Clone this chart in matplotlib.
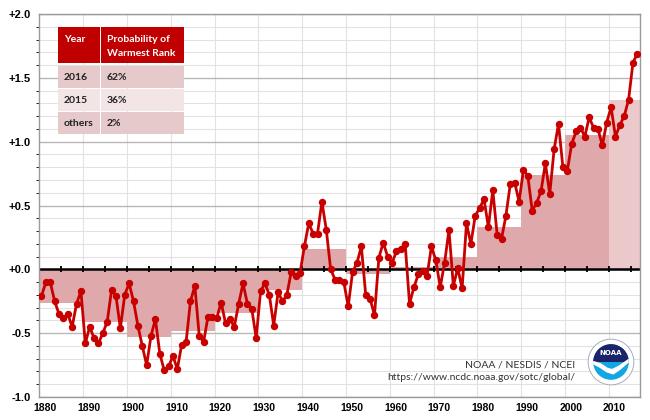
import numpy as np
import matplotlib
matplotlib.use('Agg')
import matplotlib.pyplot as plt
from matplotlib.patches import Rectangle, Circle, Wedge, Polygon

# annual global land & ocean anomalies (deg F)
years = np.arange(1880, 2017)
anomaly = [
    -0.21, -0.10, -0.10, -0.25, -0.35, -0.38, -0.35, -0.45, -0.27, -0.17,
    -0.58, -0.45, -0.54, -0.58, -0.50, -0.41, -0.16, -0.21, -0.46, -0.20,
    -0.11, -0.25, -0.44, -0.60, -0.75, -0.52, -0.39, -0.66, -0.79, -0.76,
    -0.68, -0.78, -0.59, -0.57, -0.25, -0.13, -0.52, -0.57, -0.37, -0.37,
    -0.38, -0.26, -0.42, -0.39, -0.45, -0.27, -0.11, -0.27, -0.31, -0.54,
    -0.17, -0.11, -0.20, -0.44, -0.18, -0.25, -0.20, -0.02, -0.05, -0.03,
    0.18, 0.36, 0.28, 0.28, 0.53, 0.31, 0.00, -0.08, -0.08, -0.10,
    -0.29, -0.02, 0.05, 0.18, -0.20, -0.23, -0.36, 0.09, 0.21, 0.10,
    0.05, 0.14, 0.16, 0.20, -0.27, -0.14, -0.04, -0.01, -0.05, 0.18,
    0.07, -0.14, 0.05, 0.31, -0.13, 0.01, -0.15, 0.36, 0.20, 0.42,
    0.48, 0.55, 0.33, 0.62, 0.27, 0.24, 0.42, 0.67, 0.68, 0.53,
    0.78, 0.73, 0.46, 0.52, 0.61, 0.83, 0.59, 0.94, 1.14, 0.80,
    0.77, 0.98, 1.08, 1.11, 1.04, 1.19, 1.11, 1.10, 0.97, 1.15,
    1.27, 1.04, 1.13, 1.20, 1.33, 1.62, 1.69,
]

# decadal averages (deg F)
decades = [1880, 1890, 1900, 1910, 1920, 1930, 1940, 1950, 1960, 1970, 1980, 1990, 2000, 2010]
decade_avg = [-0.26, -0.41, -0.53, -0.48, -0.34, -0.16, 0.16, -0.04, 0.02, 0.10, 0.33, 0.74, 1.05, 1.33]

table_years = ['2016', '2015', 'others']
table_probs = ['62%', '36%', '2%']

yticks = [-1.0, -0.5, 0.0, 0.5, 1.0, 1.5, 2.0]
ytick_labels = ['-1.0', '-0.5', '+0.0', '+0.5', '+1.0', '+1.5', '+2.0']
xtick_years = list(range(1880, 2011, 10))

W, H = 650, 420
X_MAX = 2017.1


def fx(x):
    return x / W


def fy(y):
    return 1 - y / H


fig = plt.figure(figsize=(6.5, 4.2), dpi=100)
ax = fig.add_axes([fx(39.3), fy(397), fx(640 - 39.3), (397 - 14) / H])

# decade bars
for d, v in zip(decades, decade_avg):
    w = min(10, X_MAX - d)
    col = '#ebc9ca' if d == 2010 else '#dfa9ab'
    ax.bar(d, v, width=w, align='edge', color=col, zorder=1, linewidth=0)

# grid
ax.set_yticks(np.arange(-1.0, 2.01, 0.1), minor=True)
ax.grid(which='minor', axis='y', color='#e2e2e2', lw=0.8, zorder=0)
ax.set_yticks(yticks)
ax.set_yticklabels(ytick_labels, fontsize=8, fontweight='bold', family='Liberation Sans')
ax.grid(which='major', axis='y', color='#b8b8b8', lw=1.0, zorder=0)
for d in xtick_years[1:]:
    ax.axvline(d, color='#e2e2e2', lw=0.8, zorder=0)
ax.set_axisbelow(True)

# zero line with 5-year ticks
ax.axhline(0, color='black', lw=1.8, zorder=2)
ax.plot(np.arange(1880, 2016, 5), np.zeros(len(range(1880, 2016, 5))), '|',
        color='black', ms=5, mew=1.3, zorder=2)

# annual series
ax.plot(years + 0.5, anomaly, '-o', color='#c80000', lw=2.0, ms=4.3, zorder=3)

ax.set_xlim(1880, X_MAX)
ax.set_ylim(-1.0, 2.0)
ax.set_xticks([y + 1.3 for y in xtick_years])
ax.set_xticklabels([str(y) for y in xtick_years], fontsize=7.5, fontweight='bold',
                   family='Liberation Sans')
ax.tick_params(axis='both', length=0, pad=4)
ax.tick_params(axis='y', pad=6)
for s in ax.spines.values():
    s.set_color('#9a9a9a')
    s.set_linewidth(1.0)

# probability table
hdr = Rectangle((fx(57.5), fy(63)), (184 - 57.5) / W, 36 / H, transform=fig.transFigure,
                facecolor='#c00000', edgecolor='none', zorder=5)
fig.patches.append(hdr)
fig.patches.append(Rectangle((fx(99.5), fy(63)), 1.5 / W, 36 / H, transform=fig.transFigure,
                             facecolor='white', edgecolor='none', zorder=6))
fig.text(fx(64), fy(40), 'Year', color='white', fontsize=7.5, fontweight='bold',
         family='Lato', va='center', zorder=7)
fig.text(fx(107), fy(40), 'Probability of', color='white', fontsize=7.5, fontweight='bold',
         family='Lato', va='center', zorder=7)
fig.text(fx(107), fy(54), 'Warmest Rank', color='white', fontsize=7.5, fontweight='bold',
         family='Lato', va='center', zorder=7)
row_cols = ['#e6c9ca', '#f3e5e5', '#e6c9ca']
for i, (yr, pr) in enumerate(zip(table_years, table_probs)):
    top = 66 + i * 23
    fig.patches.append(Rectangle((fx(57.5), fy(top + 22)), (184 - 57.5) / W, 22 / H,
                                 transform=fig.transFigure, facecolor=row_cols[i],
                                 edgecolor='none', zorder=5))
    fig.patches.append(Rectangle((fx(99.5), fy(top + 22)), 1.5 / W, 22 / H,
                                 transform=fig.transFigure, facecolor='white',
                                 edgecolor='none', zorder=6))
    fig.text(fx(64), fy(top + 11.5), yr, color='#222222', fontsize=7.5, fontweight='bold',
             family='Lato', va='center', zorder=7)
    fig.text(fx(107), fy(top + 11.5), pr, color='#222222', fontsize=7.5, fontweight='bold',
             family='Lato', va='center', zorder=7)

# credits
fig.text(fx(575), fy(365), 'NOAA / NESDIS / NCEI', ha='right', va='center',
         fontsize=7.5, family='Lato', color='#333333')
fig.text(fx(575), fy(378), 'https://www.ncdc.noaa.gov/sotc/global/', ha='right', va='center',
         fontsize=7.5, family='Lato', color='#333333')

# NOAA logo
lax = fig.add_axes([fx(587), fy(386), 48 / W, 48 / H])
lax.set_xlim(-1.05, 1.05)
lax.set_ylim(-1.05, 1.05)
lax.set_aspect('equal')
lax.axis('off')
lax.add_patch(Circle((0, 0), 1.0, facecolor='white', edgecolor='#9aa0b8', lw=0.6))
lax.add_patch(Circle((0, 0), 0.78, facecolor='#12a6e3', edgecolor='none'))
lax.add_patch(Wedge((0, 0), 0.78, 0, 180, facecolor='#1b2369', edgecolor='none'))
lax.add_patch(Polygon([(-0.78, 0.05), (-0.45, -0.05), (-0.15, -0.25), (0.05, -0.3),
                       (0.35, -0.15), (0.78, 0.15), (0.78, -0.02), (0.4, -0.35),
                       (0.1, -0.55), (-0.2, -0.45), (-0.5, -0.25), (-0.78, -0.1)],
                      facecolor='white', edgecolor='none'))
lax.text(0, 0.38, 'NOAA', color='white', fontsize=5, fontweight='bold', ha='center',
         va='center', family='DejaVu Sans')

fig.savefig('out.png', dpi=100)
